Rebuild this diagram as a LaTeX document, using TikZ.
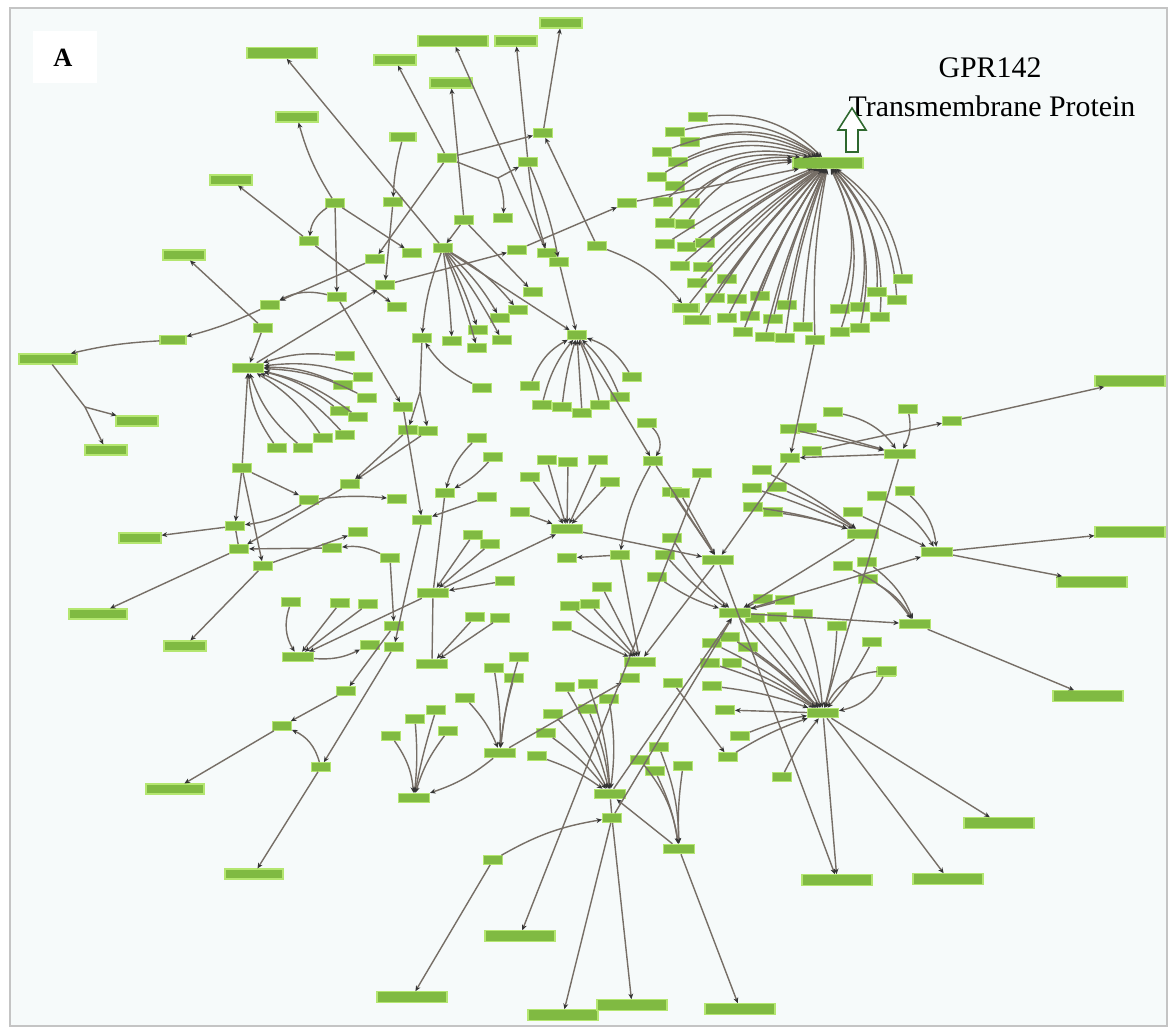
\documentclass[tikz,border=0pt]{standalone}
\usepackage{fontspec}
\setmainfont{Liberation Serif}
\usetikzlibrary{arrows.meta, positioning, calc}
\definecolor{nodegreen}{RGB}{128,186,66}
\definecolor{nodeglow}{RGB}{180,230,112}
\definecolor{edgegray}{RGB}{118,110,102}
\definecolor{paper}{RGB}{246,250,250}
\definecolor{framegray}{RGB}{196,196,196}
\definecolor{arrowgreen}{RGB}{46,104,46}

\begin{document}
\begin{tikzpicture}[x=0.02cm, y=-0.02cm,
    gs/.style={rectangle, fill=nodegreen, draw=nodeglow, line width=0.6pt,
               inner sep=0pt, minimum width=0.38cm, minimum height=0.17cm},
    gm/.style={gs, minimum width=0.52cm},
    gh/.style={gs, minimum width=0.62cm, minimum height=0.19cm},
    gl/.style={gs, minimum width=0.84cm, minimum height=0.2cm},
    gw/.style={gs, minimum width=1.16cm, minimum height=0.2cm},
    gx/.style={gs, minimum width=1.4cm, minimum height=0.21cm},
    ed/.style={draw=edgegray, line width=0.8pt,
               -{Stealth[length=3.2pt, width=2.8pt, color=black!80]}},
    ln/.style={draw=edgegray, line width=0.8pt},
    big/.style={font=\fontsize{17}{19}\selectfont}
  ]
  \useasboundingbox (0,0) rectangle (1174,1031);
  \draw[framegray, line width=1.5pt, fill=paper] (10,8) rectangle (1167,1026);
  % -- panel letter --
  \node[fill=white, minimum width=1.3cm, minimum height=1.06cm] (tag) at (65,57) {};
  \node[font=\fontsize{15}{17}\selectfont\bfseries] (lettera) at (63,58) {A};
  % -- caption --
  \node[big] (cap1) at (990,68) {GPR142};
  \node[big] (cap2) at (992,106) {Transmembrane Protein};
  \draw[arrowgreen, line width=0.9pt, fill=white]
    (846,152) -- (846,130) -- (838,130) -- (852,108) -- (866,130) -- (858,130) -- (858,152) -- cycle;

  % -- GPR142 hub and its fan --
  \node[gx] (gpr) at (828,163) {};
  \foreach \x/\y [count=\i] in {698/117, 675/132, 690/142, 662/152, 678/162, 657/177,
      675/186, 663/202, 690/203, 665/223, 685/224}{
    \node[gs] (hu\i) at (\x,\y) {};
    \draw[ed] (hu\i) to[bend left=25] (gpr);
  }
  \foreach \x/\y [count=\i] in {665/244, 687/247, 705/243, 680/266, 703/267, 697/283,
      727/279, 715/298, 737/299, 760/296, 787/305, 727/318, 750/316, 773/319,
      803/327, 743/332, 765/337, 785/338, 815/340}{
    \node[gs] (hd\i) at (\x,\y) {};
    \draw[ed] (hd\i) to[bend left=6] (gpr);
  }
  \foreach \x/\y [count=\i] in {840/309, 860/307, 880/317, 840/332, 860/328,
      877/292, 897/300, 903/279}{
    \node[gs] (hr\i) at (\x,\y) {};
    \draw[ed] (hr\i) to[bend right=22] (gpr);
  }
  \node[gm] (hm1) at (686,308) {};
  \node[gm] (hm2) at (697,320) {};
  \draw[ed] (hm1) to[bend left=6] (gpr);
  \draw[ed] (hm2) to[bend left=6] (gpr);

  % -- upper left labels and nodes --
  \node[gx] (t1) at (282,53) {};
  \node[gl] (t2) at (297,117) {};
  \node[gl] (t3) at (231,180) {};
  \node[gl] (t4) at (184,255) {};
  \node[gl] (t5) at (395,60) {};
  \node[gl] (t6) at (451,83) {};
  \node[gx] (t7) at (453,41) {};
  \node[gl] (t8) at (516,41) {};
  \node[gl] (t9) at (561,23) {};
  \node[gm] (t10) at (403,137) {};
  \foreach \n/\x/\y in {a1/335/203, a2/309/241, a3/393/202, a4/447/158, a5/543/133,
      a6/528/162, a7/503/218, a8/464/220, a9/443/248, a10/517/250, a11/547/253,
      a12/559/262, a13/597/246, a14/627/203, a15/412/253, a16/375/259, a17/385/285,
      a18/397/307, a19/337/297, a20/270/305, a21/263/328, a22/533/292, a23/518/310,
      a24/500/318, a25/478/330, a26/502/340, a27/452/341, a28/477/348, a29/422/338,
      a30/577/335}{
    \node[gs] (\n) at (\x,\y) {};
  }
  \node[gw] (l1) at (48,359) {};
  \node[gm] (l2) at (173,340) {};
  \node[gl] (l3) at (137,421) {};
  \node[gl] (l4) at (106,450) {};
  \coordinate (j1) at (498,178);
  \coordinate (j2) at (85,407);
  \coordinate (j3) at (420,392);

  % -- left hub fan --
  \node[gh] (lh) at (248,368) {};
  \foreach \x/\y [count=\i] in {345/356, 363/377, 343/385, 367/398, 340/411, 358/417,
      345/435, 323/438}{
    \node[gs] (lf\i) at (\x,\y) {};
    \draw[ed] (lf\i) to[bend right=12] (lh);
  }
  \foreach \x/\y [count=\i] in {303/448, 277/448}{
    \node[gs] (lg\i) at (\x,\y) {};
    \draw[ed] (lg\i) to[bend left=15] (lh);
  }

  % -- second top fan --
  \foreach \x/\y [count=\i] in {530/386, 542/405, 562/407, 582/413, 600/405, 620/397, 632/377}{
    \node[gs] (pf\i) at (\x,\y) {};
  }
  \foreach \i/\b in {1/20, 2/12, 3/5, 4/0, 5/-5, 6/-12, 7/-20}{
    \draw[ed] (pf\i) to[bend left=\b] (a30);
  }

  % -- remaining small nodes --
  \foreach \n/\x/\y in {b1/242/468, b2/309/500, b3/397/499, b4/350/484, b5/403/407,
      b6/408/430, b7/428/431, b10/482/388, b11/235/526, b13/239/549, b14/263/566,
      b15/332/548, b16/358/532, b17/390/558, b20/422/520, b21/445/493, b22/477/438,
      b23/493/457, b24/487/497, b26/473/535, b27/490/544, b28/394/626, b29/394/647,
      b30/505/581,
      c2/291/602, c3/340/603, c4/368/604, c5/370/645, c8/346/691, c9/282/726,
      c10/321/767, c15/475/617, c16/500/618, c18/391/736, c19/415/719, c20/436/710,
      c21/448/731, c23/465/698, c24/494/668, c25/519/657, c26/514/678, c27/493/860,
      c33/612/818, c36/553/714, c37/546/733, c38/537/756, c39/565/687, c40/588/684,
      c41/588/709, c42/609/699,
      d2/659/747, d3/640/760, d4/655/771, d5/683/766, d13/886/672,
      e2/952/421, e4/833/412, e5/908/409, e6/790/429, e7/807/428, e8/812/451,
      e9/790/458, e10/762/470, e11/752/488, e12/777/487, e13/753/507, e14/773/512,
      e16/853/512, e17/877/496, e18/905/491, e22/843/566, e23/867/562, e24/868/579,
      e29/763/599, e30/785/600, e31/755/618, e32/777/617, e33/803/614, e34/837/626,
      e35/872/642, e36/887/671,
      f2/620/555, f3/567/558, f9/672/492, f10/672/538, f11/665/555, f12/657/577,
      f13/712/643, f14/730/637, f15/748/647, f16/710/663, f17/732/663, f18/712/686,
      f19/725/710, f20/740/736, f21/728/757, f22/673/683, f40/630/678, f52/782/777,
      f53/602/587, f55/570/606, f56/590/604, f57/562/626,
      g1/547/460, g2/568/462, g3/598/460, g4/530/477, g5/610/482, g6/520/512,
      q0/647/423, q1/653/461, u1/702/473, u2/680/493}{
    \node[gs] (\n) at (\x,\y) {};
  }
  % -- hubs --
  \foreach \n/\x/\y in {b25/433/593, c1/298/657, c14/432/664, c17/414/798, c22/500/753,
      c32/610/794, d1/679/849, e3/900/454, e15/863/534, e19/937/552, e25/915/624,
      mh/735/613, f1/567/529, f4/718/560, f6/823/713, f8/640/662}{
    \node[gh] (\n) at (\x,\y) {};
  }
  % -- labelled end nodes --
  \node[gl] (b12) at (140,538) {};
  \node[gw] (b18) at (98,614) {};
  \node[gl] (b19) at (185,646) {};
  \node[gw] (c11) at (175,789) {};
  \node[gw] (c12) at (254,874) {};
  \foreach \n/\x/\y in {c28/412/997, c29/520/936, c30/563/1015, c31/632/1005,
      d10/740/1009, d24/837/880, d25/948/879, d26/999/823, e1/1130/381,
      e20/1130/532, e21/1092/582, e37/1088/696}{
    \node[gx] (\n) at (\x,\y) {};
  }

  % -- upper left edges --
  \draw[ed] (a9) -- (t1);
  \draw[ed] (a1) to[bend left=8] (t2);
  \draw[ed] (a4) -- (t5);
  \draw[ed] (a8) -- (t6);
  \draw[ed] (a11) -- (t7);
  \draw[ed] (a6) -- (t8);
  \draw[ed] (a5) -- (t9);
  \draw[ed] (t10) to[bend right=6] (a3);
  \draw[ed] (a3) -- (a17);
  \draw[ed] (a4) -- (a5);
  \draw[ln] (a4) -- (j1);
  \draw[ed] (j1) -- (a6);
  \draw[ed] (j1) to[bend left=12] (a7);
  \draw[ed] (a4) -- (a16);
  \draw[ed] (a16) -- (a20);
  \draw[ed] (a1) to[bend right=25] (a2);
  \draw[ed] (a1) -- (a15);
  \draw[ed] (a1) -- (a19);
  \draw[ed] (a2) -- (t3);
  \draw[ed] (a2) -- (a18);
  \draw[ed] (a8) -- (a9);
  \draw[ed] (a8) -- (a22);
  \draw[ed] (lh) -- (a17);
  \draw[ed] (a17) -- (a10);
  \draw[ed] (a10) -- (a14);
  \draw[ed] (a14) -- (gpr);
  \draw[ed] (a6) to[bend right=6] (a11);
  \draw[ed] (a6) to[bend left=6] (a12);
  \draw[ed] (a12) -- (a30);
  \draw[ed] (a13) -- (a5);
  \draw[ed] (a13) to[bend left=15] (hm1);
  \draw[ed] (a19) to[bend right=20] (a20);
  \draw[ed] (a19) -- (b5);
  \draw[ed] (a21) -- (t4);
  \draw[ed] (a20) to[bend left=5] (l2);
  \draw[ed] (l2) to[bend right=5] (l1);
  \draw[ln] (l1) -- (j2);
  \draw[ed] (j2) -- (l3);
  \draw[ed] (j2) -- (l4);
  \draw[ed] (a21) -- (lh);
  \foreach \k/\b in {23/10, 24/8, 25/5, 26/4, 27/2, 28/3, 29/-8}{
    \draw[ed] (a9) to[bend left=\b] (a\k);
  }
  \draw[ed] (a9) -- (a30);
  \draw[ln] (a29) -- (j3);
  \draw[ed] (j3) -- (b6);
  \draw[ed] (j3) -- (b7);
  \draw[ed] (b10) to[bend left=15] (a29);

  % -- left middle edges --
  \draw[ed] (b1) -- (lh);
  \draw[ed] (b1) -- (b2);
  \draw[ed] (b2) to[bend left=6] (b3);
  \draw[ed] (b2) to[bend left=12] (b11);
  \draw[ed] (b1) -- (b11);
  \draw[ed] (b11) -- (b12);
  \draw[ed] (b1) -- (b14);
  \draw[ln] (b11) -- (b13);
  \draw[ed] (b13) -- (b18);
  \draw[ed] (b15) -- (b13);
  \draw[ed] (b17) to[bend right=15] (b15);
  \draw[ed] (b14) -- (b19);
  \draw[ed] (b14) -- (b16);
  \draw[ed] (b6) -- (b4);
  \draw[ed] (b7) -- (b4);
  \draw[ed] (b4) -- (b13);
  \draw[ed] (b5) -- (b20);
  \draw[ed] (b24) -- (b20);
  \draw[ed] (b20) -- (b29);
  \draw[ed] (b17) -- (b28);
  \draw[ed] (b22) to[bend right=15] (b21);
  \draw[ed] (b23) to[bend left=10] (b21);
  \draw[ln] (b21) -- (b25);
  \foreach \n in {b26, b27, b30}{ \draw[ed] (\n) -- (b25); }
  \draw[ed] (b25) -- (f1);
  \draw[ed] (b25) -- (c1);
  \draw[ln] (b25) -- (c14);

  % -- lower left edges --
  \draw[ed] (c2) to[bend right=25] (c1);
  \draw[ed] (c3) -- (c1);
  \draw[ed] (c4) -- (c1);
  \draw[ed] (c1) to[bend right=15] (c5);
  \draw[ed] (c15) -- (c14);
  \draw[ed] (c16) -- (c14);
  \draw[ed] (b28) -- (c8);
  \draw[ed] (c8) -- (c9);
  \draw[ed] (c9) -- (c11);
  \draw[ed] (b29) -- (c10);
  \draw[ed] (c10) -- (c12);
  \draw[ed] (c10) to[bend right=25] (c9);
  \foreach \k/\b in {18/15, 19/5, 20/-3, 21/-10}{ \draw[ed] (c\k) to[bend left=\b] (c17); }
  \draw[ed] (c22) to[bend left=10] (c17);
  \foreach \k/\b in {23/10, 24/5, 25/-5, 26/-5}{ \draw[ed] (c\k) to[bend left=\b] (c22); }
  \draw[ed] (c22) -- (f40);
  \foreach \k in {36,...,42}{ \draw[ed] (c\k) to[bend left=8] (c32); }
  \draw[ln] (c32) -- (c33);
  \draw[ed] (c33) -- (c30);
  \draw[ed] (c33) -- (c31);
  \draw[ed] (c27) to[bend left=10] (c33);
  \draw[ed] (c27) -- (c28);
  \draw[ed] (d1) -- (c32);
  \foreach \k/\b in {2/10, 3/15, 4/8, 5/-5}{ \draw[ed] (d\k) to[bend left=\b] (d1); }
  \draw[ed] (d1) -- (d10);
  \draw[ed] (u1) -- (c29);
  \draw[ed] (c32) -- (mh);
  \draw[ed] (c33) -- (mh);

  % -- right middle edges --
  \draw[ed] (e8) -- (e2);
  \draw[ed] (e2) -- (e1);
  \draw[ed] (e4) to[bend left=20] (e3);
  \draw[ed] (e5) to[bend left=20] (e3);
  \draw[ed] (e6) -- (e3);
  \draw[ed] (e7) -- (e3);
  \draw[ed] (e3) -- (e9);
  \draw[ed] (hd19) -- (e9);
  \foreach \k in {10,...,14}{ \draw[ed] (e\k) to[bend left=5] (e15); }
  \draw[ed] (e16) -- (e19);
  \draw[ed] (e17) to[bend left=15] (e19);
  \draw[ed] (e18) to[bend left=20] (e19);
  \draw[ed] (e19) -- (e20);
  \draw[ed] (e19) -- (e21);
  \foreach \k in {22,23,24}{ \draw[ed] (e\k) to[bend left=15] (e25); }
  \draw[ed] (e25) -- (e37);
  \draw[ed] (mh) -- (e25);
  \draw[ed] (mh) -- (e19);
  \draw[ed] (e15) -- (mh);
  \draw[ed] (e9) -- (f4);
  \draw[ed] (e3) -- (f6);
  \foreach \k in {10,11,12}{ \draw[ed] (f\k) to[bend right=8] (mh); }
  \draw[ed] (e29) -- (mh);
  \draw[ed] (e30) -- (mh);
  \foreach \k in {1,...,6}{ \draw[ed] (g\k) -- (f1); }
  \draw[ed] (f1) -- (f4);
  \draw[ed] (f2) -- (f3);
  \draw[ed] (q1) to[bend right=10] (f2);
  \draw[ed] (q0) to[bend left=40] (q1);
  \draw[ed] (a30) -- (q1);
  \draw[ed] (q1) -- (f4);
  \draw[ed] (f9) -- (f4);
  \draw[ed] (u2) -- (f4);
  \draw[ed] (f4) -- (f8);
  \draw[ed] (f2) -- (f8);
  \foreach \k in {53,55,56,57}{ \draw[ed] (f\k) -- (f8); }
  \draw[ed] (f4) -- (d24);
  % -- big lower hub --
  \foreach \n in {e31,e32,e33,e34,e35,f13,f14,f15,f16,f17,f18,f20,f21,f52}{
    \draw[ed] (\n) to[bend left=6] (f6);
  }
  \draw[ed] (e36) to[bend right=30] (f6);
  \draw[ed] (d13) to[bend left=25] (f6);
  \draw[ed] (f6) -- (f19);
  \draw[ed] (f6) -- (d24);
  \draw[ed] (f6) -- (d25);
  \draw[ed] (f6) -- (d26);
  \draw[ed] (mh) -- (f6);
  \draw[ed] (f22) -- (f21);
\end{tikzpicture}
\end{document}
